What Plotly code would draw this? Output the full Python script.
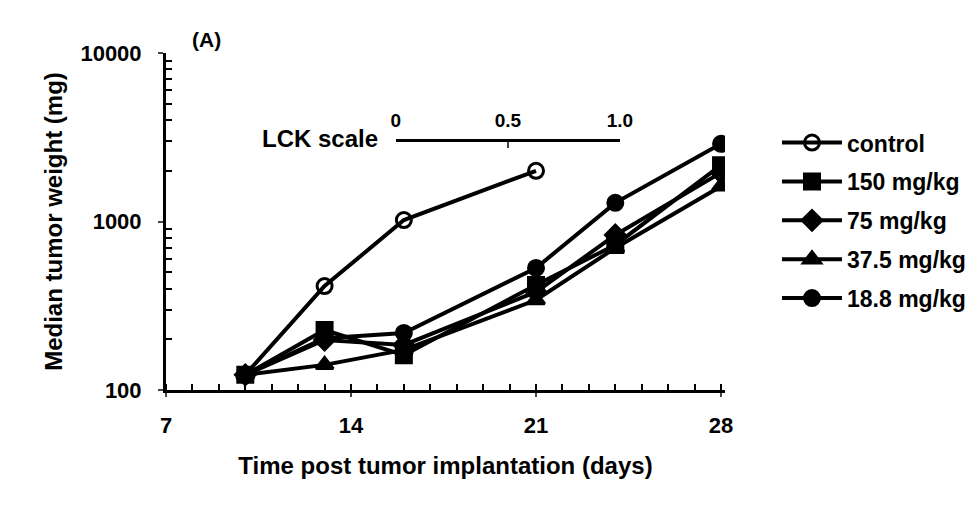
import plotly.graph_objects as go

days_control = [10, 13, 16, 21]
control = [123, 414, 1020, 2000]
days = [10, 13, 16, 21, 24, 28]
dose150 = [123, 227, 161, 420, 726, 2160]
dose75 = [123, 198, 185, 382, 832, 1950]
dose37 = [123, 141, 173, 342, 697, 1620]
dose18 = [123, 203, 218, 530, 1290, 2890]

x_ticks = [7, 14, 21, 28]
y_ticks = [100, 1000, 10000]
y_labels = ["100", "1000", "10000"]
y_minor = [m * d for d in (100, 1000) for m in range(2, 10)]
lck_ticks = [0, 0.5, 1.0]
lck_labels = ["0", "0.5", "1.0"]

FONT = "Liberation Sans"
fig = go.Figure()

series = [
    ("control", days_control, control, "circle-open"),
    ("150 mg/kg", days, dose150, "square"),
    ("75 mg/kg", days, dose75, "diamond"),
    ("37.5 mg/kg", days, dose37, "triangle-up"),
    ("18.8 mg/kg", days, dose18, "circle"),
]
for name, xs, ys, sym in series:
    fig.add_trace(go.Scatter(
        x=xs, y=ys, name=name, mode="lines+markers", legendgroup=name,
        line=dict(color="black", width=4),
        marker=dict(symbol=sym, size=15, color="black",
                    line=dict(color="black", width=3)),
    ))

# invisible trace to carry the LCK scale axis
fig.add_trace(go.Scatter(x=[None], y=[None], xaxis="x2", yaxis="y",
                         showlegend=False, hoverinfo="skip"))

fig.update_layout(
    width=977, height=505,
    margin=dict(l=166, r=252, t=53, b=115, autoexpand=False),
    paper_bgcolor="white", plot_bgcolor="rgba(0,0,0,0)",
    font=dict(family=FONT, size=22, color="black", weight="bold"),
    showlegend=True,
    legend=dict(x=1.093, y=0.798, xanchor="left", yanchor="top",
                font=dict(family=FONT, size=23, color="black", weight="bold"),
                tracegroupgap=6, itemwidth=60, bgcolor="rgba(0,0,0,0)"),
    xaxis=dict(range=[7, 28.15], tickvals=x_ticks, ticks="outside", ticklen=4,
               tickwidth=2, showline=True, linecolor="black", linewidth=3,
               showgrid=False, zeroline=False, ticklabelstandoff=10,
               minor=dict(dtick=1, tick0=7, ticks="inside", ticklen=6,
                          tickwidth=2, tickcolor="black", showgrid=False),
               tickfont=dict(size=22, weight="bold"),
               title=dict(text="Time post tumor implantation (days)",
                          font=dict(size=24, weight="bold"), standoff=20)),
    yaxis=dict(type="log", range=[2, 4], tickvals=y_ticks, ticktext=y_labels,
               ticks="outside", ticklen=5, tickwidth=2, showline=True,
               linecolor="black", linewidth=3, showgrid=False, zeroline=False,
               ticklabelstandoff=12,
               minor=dict(tickvals=y_minor, ticks="inside", ticklen=6,
                          tickwidth=2, tickcolor="black", showgrid=False),
               tickfont=dict(size=22, weight="bold"),
               title=dict(text="Median tumor weight (mg)",
                          font=dict(size=24, weight="bold"), standoff=12)),
    xaxis2=dict(domain=[0.411, 0.812], anchor="free", position=0.743,
                range=[0, 1], side="top", tickvals=lck_ticks,
                ticktext=lck_labels, ticks="inside", ticklen=6, tickwidth=2,
                showline=True, linecolor="black", linewidth=3,
                showgrid=False, zeroline=False, ticklabelstandoff=4,
                tickfont=dict(size=19, weight="bold")),
    annotations=[
        dict(text="LCK scale", xref="paper", yref="paper", x=0.383, y=0.746,
             xanchor="right", yanchor="middle", showarrow=False,
             font=dict(size=24, weight="bold")),
        dict(text="(A)", xref="paper", yref="paper", x=0.043, y=1.0,
             xanchor="left", yanchor="bottom", showarrow=False,
             font=dict(size=21, weight="bold")),
    ],
)

fig.write_html("out.html")
